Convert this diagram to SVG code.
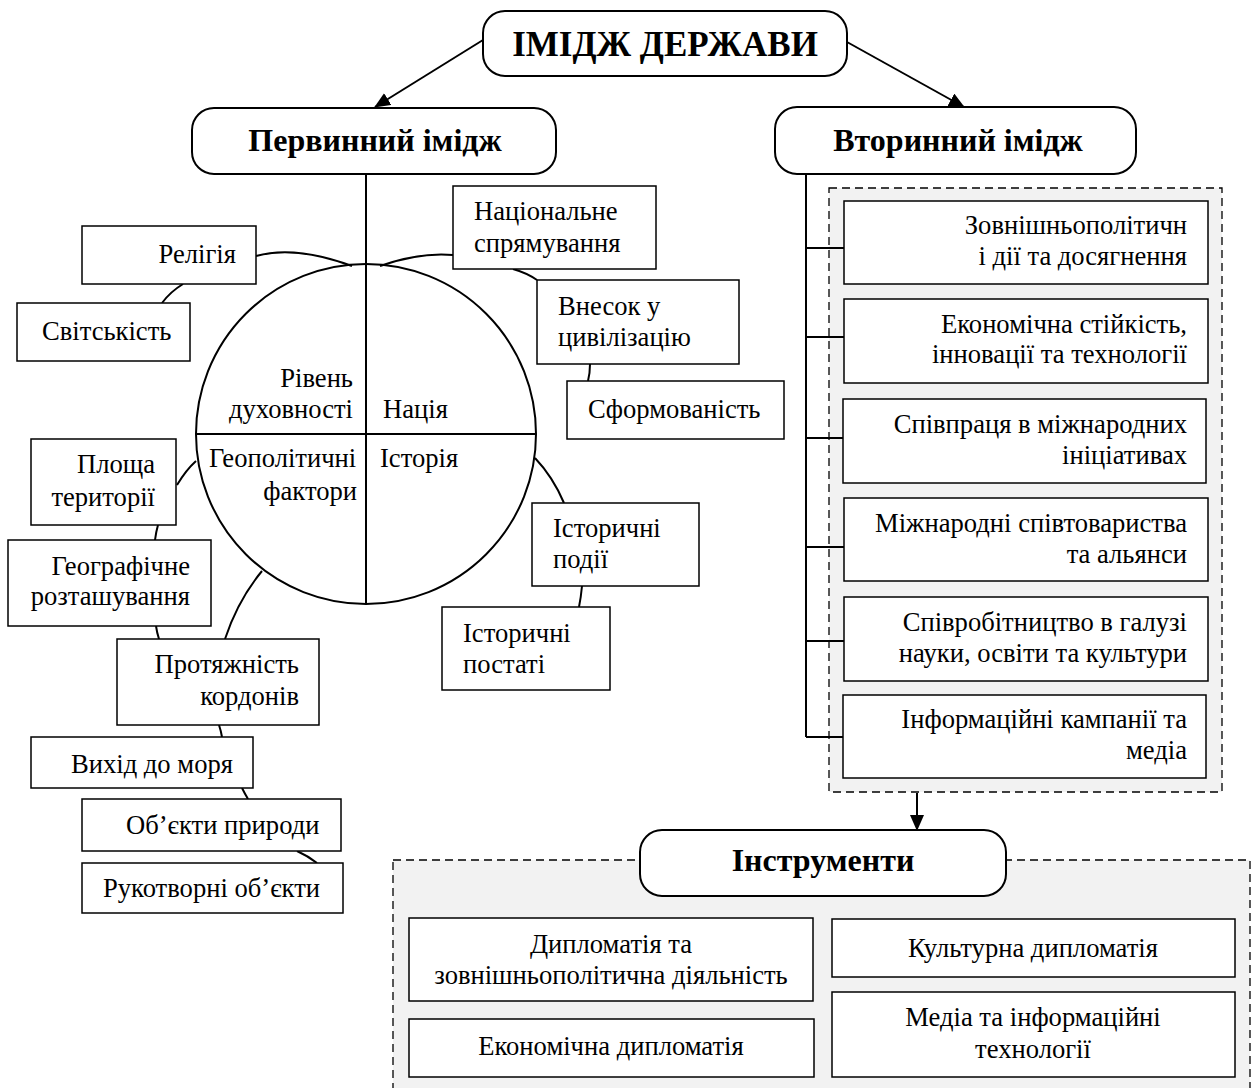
<svg xmlns="http://www.w3.org/2000/svg" width="1252" height="1088" viewBox="0 0 1252 1088" font-family="'Liberation Serif', 'Times New Roman', serif">
<defs>
<marker id="ah" markerWidth="16" markerHeight="14" refX="15" refY="7" orient="auto" markerUnits="userSpaceOnUse">
<path d="M0,0 L16,7 L0,14 Z" fill="#000"/>
</marker>
</defs>
<style>
text{font-family:'Liberation Serif','Times New Roman',serif;font-size:26.6px;fill:#000}
.b{font-weight:bold;font-size:32px}
.t{font-weight:bold;font-size:35px}
.box{fill:#fff;stroke:#000;stroke-width:1.5}
.rbox{fill:#fff;stroke:#000;stroke-width:2}
.ln{fill:none;stroke:#000;stroke-width:2}
.dash{fill:#f2f2f2;stroke:#000;stroke-width:1.3;stroke-dasharray:8,5}
.e{text-anchor:end}
.m{text-anchor:middle}
</style>
<rect width="1252" height="1088" fill="#fff"/>

<rect class="dash" x="829" y="188" width="393" height="604"/>
<rect class="dash" x="393" y="860" width="857" height="240"/>

<g id="connectors">
<line class="ln" x1="483" y1="40" x2="375" y2="107" marker-end="url(#ah)"/>
<line class="ln" x1="847" y1="42" x2="964" y2="107" marker-end="url(#ah)"/>
<path class="ln" d="M256,256 Q295,245 352,266"/>
<path class="ln" d="M380,266 Q420,252 453,255"/>
<path class="ln" d="M183,284 Q170,292 162,303"/>
<path class="ln" d="M513,269 Q527,273 537,280"/>
<path class="ln" d="M590,364 Q590,373 588,381"/>
<path class="ln" d="M535,458 Q553,477 564,503"/>
<path class="ln" d="M582,586 Q581,597 579,607"/>
<path class="ln" d="M177,485 Q186,470 196,461"/>
<path class="ln" d="M158,525 Q156,532 155,540"/>
<path class="ln" d="M156,626 Q157,633 159,639"/>
<path class="ln" d="M262,571 Q238,600 225,639"/>
<path class="ln" d="M219,725 Q221,731 222,737"/>
<path class="ln" d="M242,788 Q245,794 248,799"/>
<path class="ln" d="M297,851 Q308,856 317,863"/>
<path class="ln" d="M806,174 V737"/>
<path class="ln" d="M806,248 H845 M806,337 H845 M806,438 H845 M806,547 H845 M806,641 H845 M806,737 H845"/>
<line class="ln" x1="917" y1="793" x2="917" y2="830" marker-end="url(#ah)"/>
</g>

<g id="circle">
<circle cx="366" cy="434" r="170" fill="none" stroke="#000" stroke-width="2"/>
<line class="ln" x1="366" y1="174" x2="366" y2="604"/>
<line class="ln" x1="196" y1="434" x2="536" y2="434"/>
<text class="e" x="353" y="387">Рівень</text>
<text class="e" x="353" y="418">духовності</text>
<text x="383" y="418">Нація</text>
<text x="209" y="467">Геополітичні</text>
<text class="e" x="357" y="500">фактори</text>
<text x="380" y="467">Історія</text>
</g>

<g id="title">
<rect class="rbox" x="483" y="11" width="364" height="65" rx="22"/>
<text class="t m" x="665" y="56">ІМІДЖ ДЕРЖАВИ</text>
</g>
<g id="primary">
<rect class="rbox" x="192" y="108" width="364" height="66" rx="22"/>
<text class="b m" x="375" y="151">Первинний імідж</text>
</g>
<g id="secondary">
<rect class="rbox" x="775" y="107" width="361" height="67" rx="22"/>
<text class="b m" x="958" y="151">Вторинний імідж</text>
</g>

<g id="n-religion"><rect class="box" x="82" y="226" width="174" height="58"/><text class="e" x="236" y="263">Релігія</text></g>
<g id="n-secular"><rect class="box" x="17" y="303" width="173" height="58"/><text x="42" y="340">Світськість</text></g>
<g id="n-national"><rect class="box" x="453" y="186" width="203" height="83"/><text x="474" y="220">Національне</text><text x="474" y="252">спрямування</text></g>
<g id="n-contrib"><rect class="box" x="537" y="280" width="202" height="84"/><text x="558" y="315">Внесок у</text><text x="558" y="346">цивілізацію</text></g>
<g id="n-formed"><rect class="box" x="567" y="381" width="217" height="58"/><text x="588" y="418">Сформованість</text></g>
<g id="n-hevents"><rect class="box" x="532" y="503" width="167" height="83"/><text x="553" y="537">Історичні</text><text x="553" y="568">події</text></g>
<g id="n-hfigures"><rect class="box" x="442" y="607" width="168" height="83"/><text x="463" y="642">Історичні</text><text x="463" y="673">постаті</text></g>
<g id="n-area"><rect class="box" x="31" y="439" width="145" height="86"/><text class="e" x="155" y="473">Площа</text><text class="e" x="155" y="506">території</text></g>
<g id="n-geo"><rect class="box" x="8" y="540" width="203" height="86"/><text class="e" x="190" y="575">Географічне</text><text class="e" x="190" y="605">розташування</text></g>
<g id="n-borders"><rect class="box" x="117" y="639" width="202" height="86"/><text class="e" x="299" y="673">Протяжність</text><text class="e" x="299" y="705">кордонів</text></g>
<g id="n-sea"><rect class="box" x="31" y="737" width="222" height="51"/><text x="71" y="773">Вихід до моря</text></g>
<g id="n-nature"><rect class="box" x="82" y="799" width="259" height="52"/><text x="126" y="834">Об’єкти природи</text></g>
<g id="n-manmade"><rect class="box" x="82" y="863" width="261" height="50"/><text x="103" y="897">Рукотворні об’єкти</text></g>

<g id="s1"><rect class="box" x="844" y="201" width="364" height="83"/><text class="e" x="1187" y="234">Зовнішньополітичн</text><text class="e" x="1187" y="265">і дії та досягнення</text></g>
<g id="s2"><rect class="box" x="844" y="299" width="364" height="84"/><text class="e" x="1187" y="333">Економічна стійкість,</text><text class="e" x="1187" y="363">інновації та технології</text></g>
<g id="s3"><rect class="box" x="843" y="399" width="363" height="84"/><text class="e" x="1187" y="433">Співпраця в міжнародних</text><text class="e" x="1187" y="464">ініціативах</text></g>
<g id="s4"><rect class="box" x="844" y="498" width="364" height="83"/><text class="e" x="1187" y="532">Міжнародні співтовариства</text><text class="e" x="1187" y="563">та альянси</text></g>
<g id="s5"><rect class="box" x="844" y="597" width="364" height="84"/><text class="e" x="1187" y="631">Співробітництво в галузі</text><text class="e" x="1187" y="662">науки, освіти та культури</text></g>
<g id="s6"><rect class="box" x="843" y="695" width="363" height="83"/><text class="e" x="1187" y="728">Інформаційні кампанії та</text><text class="e" x="1187" y="759">медіа</text></g>

<g id="tools">
<rect class="rbox" x="640" y="830" width="366" height="66" rx="22"/>
<text class="b m" x="823" y="871">Інструменти</text>
</g>
<g id="t1"><rect class="box" x="409" y="918" width="404" height="83"/><text class="m" x="611" y="953">Дипломатія та</text><text class="m" x="611" y="984">зовнішньополітична діяльність</text></g>
<g id="t2"><rect class="box" x="409" y="1019" width="405" height="58"/><text class="m" x="611" y="1055">Економічна дипломатія</text></g>
<g id="t3"><rect class="box" x="832" y="919" width="403" height="58"/><text class="m" x="1033" y="957">Культурна дипломатія</text></g>
<g id="t4"><rect class="box" x="832" y="992" width="403" height="85"/><text class="m" x="1033" y="1026">Медіа та інформаційні</text><text class="m" x="1033" y="1058">технології</text></g>
</svg>
